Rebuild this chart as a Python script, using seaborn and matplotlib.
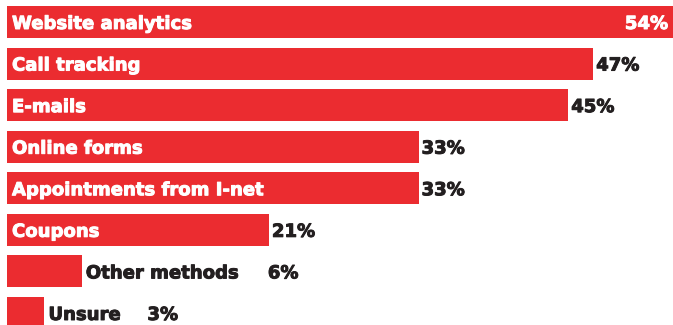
import matplotlib
matplotlib.use("Agg")
import matplotlib.pyplot as plt
import matplotlib.patheffects as pe
import seaborn as sns
import pandas as pd

categories = ["Website analytics", "Call tracking", "E-mails", "Online forms",
              "Appointments from I-net", "Coupons", "Other methods", "Unsure"]
values = [54, 47, 45, 33, 33, 21, 6, 3]
value_labels = ["54%", "47%", "45%", "33%", "33%", "21%", "6%", "3%"]

RED = "#EB2C30"
DARK = "#231F20"
FONT = ["DejaVu Sans"]

sns.set_theme(style="white")
plt.rcParams["font.family"] = FONT

df = pd.DataFrame({"cat": categories, "val": values})

fig = plt.figure(figsize=(6.73, 3.25), dpi=100)
ax = fig.add_axes([7 / 673, 0, 666 / 673, 1])
sns.barplot(data=df, y="cat", x="val", orient="h", color=RED, saturation=1,
            width=0.77, linewidth=0, ax=ax)
ax.set_xlim(0, 53.4)
ax.set_ylim(7.289, -0.529)
ax.axis("off")

fs = 13


def txt(s, x, i, dx, ha, color):
    ax.annotate(s, xy=(x, i), xytext=(dx, 0), textcoords="offset pixels",
                va="center_baseline", ha=ha, color=color, fontsize=fs,
                fontweight="bold",
                path_effects=[pe.withStroke(linewidth=0.7, foreground=color)])


for i, (c, v, lab) in enumerate(zip(categories, values, value_labels)):
    if v >= 20:
        txt(c, 0, i, 5, "left", "white")
        if v >= 50:
            txt(lab, 53.4, i, -5, "right", "white")
        else:
            txt(lab, v, i, 3, "left", DARK)
    else:
        txt(c, v, i, 4, "left", DARK)
        off = 186 if v > 4 else 103
        txt(lab, v, i, off, "left", DARK)

fig.savefig("out.png", dpi=100)
